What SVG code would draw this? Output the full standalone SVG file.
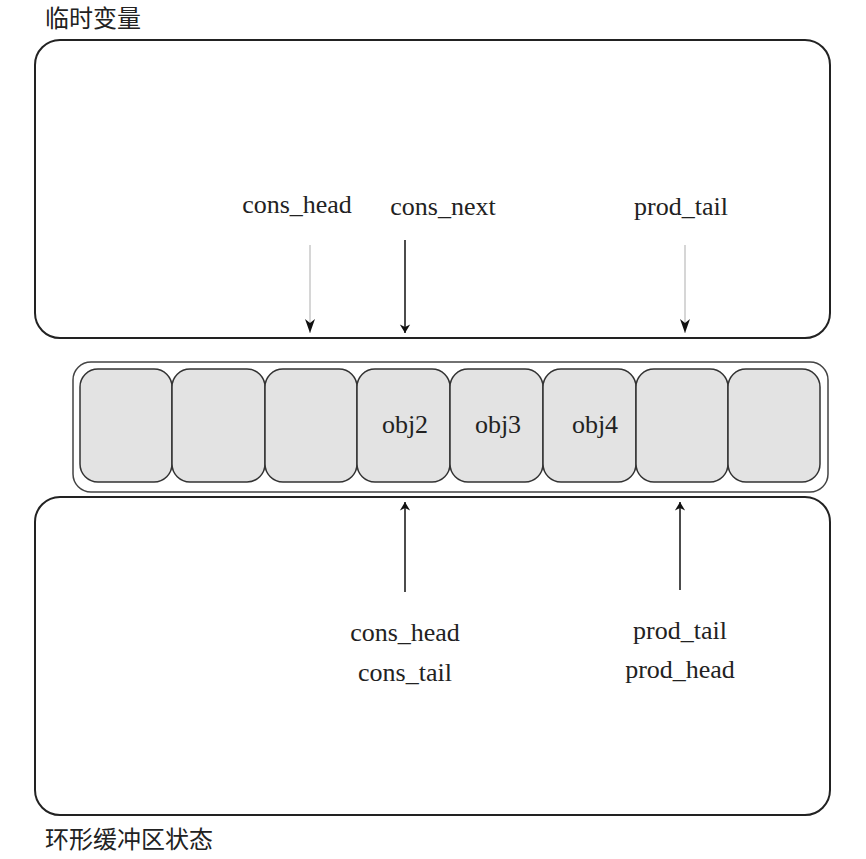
<svg xmlns="http://www.w3.org/2000/svg" width="866" height="859" viewBox="0 0 866 859">
<style>
.box{fill:none;stroke:#222;stroke-width:2}
.cell{fill:#e3e3e3;stroke:#333;stroke-width:1.5}
.t{font-family:"Liberation Serif","Noto Sans CJK SC",serif;font-size:26px;fill:#222;text-anchor:middle}
.c{font-family:"Noto Sans CJK SC",serif;font-size:24px;fill:#222}
.a{stroke:#111;stroke-width:1.5;fill:none}
.g{stroke:#bbb;stroke-width:1.2;fill:none}
</style>
<defs>
<marker id="ah" viewBox="0 0 10 14" refX="10" refY="7" markerWidth="13" markerHeight="12" orient="auto" markerUnits="userSpaceOnUse"><path d="M0,1 L10,7 L0,13 L3,7 Z" fill="#111"/></marker>
</defs>
<g id="tempvars">
<rect class="box" x="35" y="40" width="795" height="298" rx="25"/>
<text class="c" x="45" y="27">临时变量</text>
</g>
<g id="ringstate">
<rect class="box" x="35" y="497" width="795" height="318" rx="25"/>
<text class="c" x="45" y="848">环形缓冲区状态</text>
</g>
<g id="ring">
<rect x="73" y="362" width="755" height="130" rx="18" fill="#fff" stroke="#444" stroke-width="1.5"/>
<rect class="cell" x="80" y="369" width="92" height="113" rx="18"/>
<rect class="cell" x="172" y="369" width="93" height="113" rx="18"/>
<rect class="cell" x="265" y="369" width="92" height="113" rx="18"/>
<rect class="cell" x="357" y="369" width="93" height="113" rx="18"/>
<rect class="cell" x="450" y="369" width="93" height="113" rx="18"/>
<rect class="cell" x="543" y="369" width="93" height="113" rx="18"/>
<rect class="cell" x="636" y="369" width="92" height="113" rx="18"/>
<rect class="cell" x="728" y="369" width="92" height="113" rx="18"/>
<text class="t" x="405" y="433">obj2</text>
<text class="t" x="498" y="433">obj3</text>
<text class="t" x="595" y="433">obj4</text>
</g>
<g id="labels">
<text class="t" x="297" y="213">cons_head</text>
<text class="t" x="443" y="215">cons_next</text>
<text class="t" x="681" y="215">prod_tail</text>
<text class="t" x="405" y="641">cons_head</text>
<text class="t" x="405" y="681">cons_tail</text>
<text class="t" x="680" y="639">prod_tail</text>
<text class="t" x="680" y="678">prod_head</text>
</g>
<g id="connectors">
<line class="g" x1="310" y1="245" x2="310" y2="333"/>
<path d="M305,319 L310,333 L315,319 L310,323 Z" fill="#111"/>
<line class="a" x1="405" y1="240" x2="405" y2="333" marker-end="url(#ah)"/>
<line class="g" x1="685" y1="245" x2="685" y2="333"/>
<path d="M680,319 L685,333 L690,319 L685,323 Z" fill="#111"/>
<line class="a" x1="405" y1="592" x2="405" y2="502" marker-end="url(#ah)"/>
<line class="a" x1="680" y1="590" x2="680" y2="502" marker-end="url(#ah)"/>
</g>
</svg>
